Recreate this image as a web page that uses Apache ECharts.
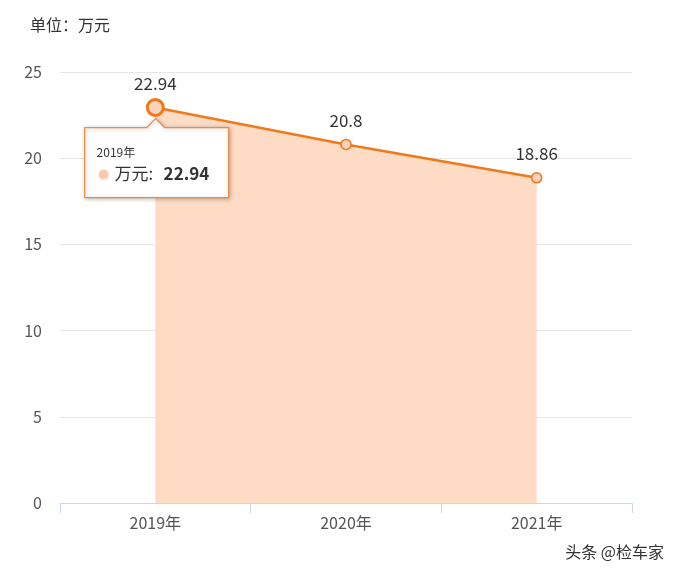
<!DOCTYPE html>
<html>
<head>
<meta charset="utf-8">
<script src="https://cdn.jsdelivr.net/npm/echarts@6/dist/echarts.min.js"></script>
<style>html,body{margin:0;padding:0;background:#fff}#main{width:678px;height:572px}</style>
</head>
<body>
<div id="main"></div>
<script>
var years = ['2019年', '2020年', '2021年'];
var prices = [22.94, 20.8, 18.86];
var yTicks = [0, 5, 10, 15, 20, 25];

var chart = echarts.init(document.getElementById('main'));
var font = '"Microsoft YaHei","Noto Sans CJK SC",sans-serif';
chart.setOption({
    animation: false,
    textStyle: { fontFamily: font },
    title: {
        text: '单位：万元', left: 25, top: 12,
        textStyle: { fontSize: 16, fontWeight: 'normal', color: '#333', fontFamily: font }
    },
    grid: { left: 60, right: 46, top: 72, bottom: 69 },
    xAxis: {
        type: 'category', data: years, boundaryGap: true,
        axisLine: { lineStyle: { color: '#ccd6eb' } },
        axisTick: { show: true, length: 10, lineStyle: { color: '#ccd6eb' } },
        axisLabel: { color: '#555', fontSize: 16, margin: 12 }
    },
    yAxis: {
        type: 'value', min: yTicks[0], max: yTicks[yTicks.length - 1], interval: 5,
        axisLine: { show: false }, axisTick: { show: false },
        axisLabel: { color: '#555', fontSize: 16, margin: 18 },
        splitLine: { lineStyle: { color: '#e6e6e6' } }
    },
    series: [{
        type: 'line', data: prices, symbol: 'circle', symbolSize: 10,
        lineStyle: { color: '#f07a1a', width: 2.5 },
        itemStyle: { color: '#fdd2b8', borderColor: '#f07a1a', borderWidth: 1.5 },
        areaStyle: { color: '#fedbc5', opacity: 1 },
        label: { show: true, position: 'top', distance: 10, color: '#333', fontSize: 17 },
        markPoint: {
            symbol: 'circle', symbolSize: 16,
            itemStyle: { color: '#fdd2b8', borderColor: '#f07a1a', borderWidth: 3 },
            label: { show: false },
            data: [{ coord: [0, prices[0]] }]
        }
    }],
    graphic: [{
        type: 'group', left: 84, top: 118, z: 100,
        children: [{
            type: 'polygon', z: 100,
            shape: { points: [[0, 9], [62, 9], [71, 0], [80, 9], [144, 9], [144, 79], [0, 79]] },
            style: { fill: '#fff', stroke: '#f08a3c', lineWidth: 1.2, shadowBlur: 4, shadowColor: 'rgba(0,0,0,0.25)', shadowOffsetX: 1, shadowOffsetY: 1 }
        }, {
            type: 'text', left: 12, top: 28, z: 101,
            style: { text: years[0], fontSize: 12, fill: '#333', fontFamily: font }
        }, {
            type: 'circle', z: 101, shape: { cx: 19, cy: 56, r: 5 }, style: { fill: '#fdc8ae' }
        }, {
            type: 'text', left: 30, top: 46, z: 101,
            style: { text: '万元: ', fontSize: 17, fill: '#333', fontFamily: font }
        }, {
            type: 'text', left: 79, top: 46, z: 101,
            style: { text: String(prices[0]), fontSize: 17, fontWeight: 'bold', fill: '#333', fontFamily: font }
        }]
    }, {
        type: 'text', right: 14, bottom: 12,
        style: { text: '头条 @检车家', fontSize: 16, fill: '#333', fontFamily: font }
    }]
});
</script>
</body>
</html>
